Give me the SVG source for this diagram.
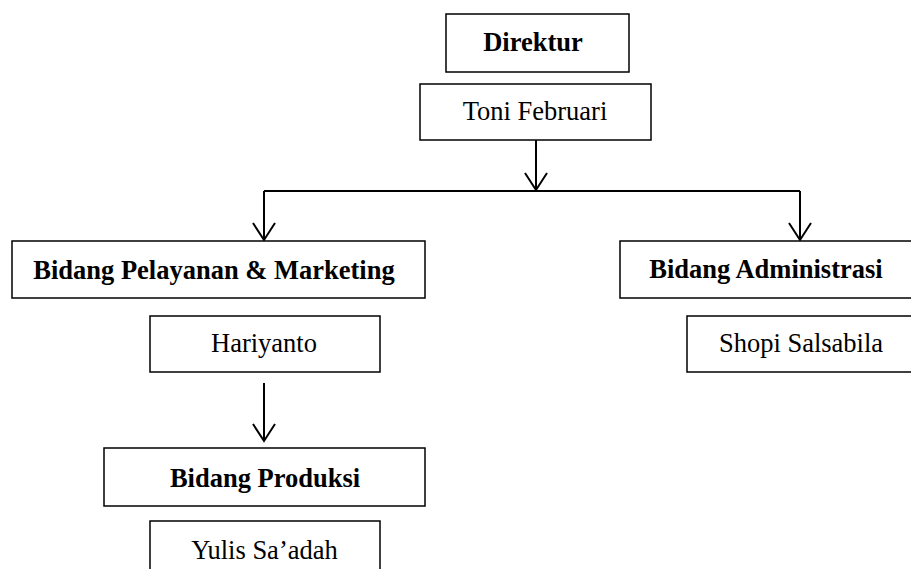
<svg xmlns="http://www.w3.org/2000/svg" width="911" height="569" viewBox="0 0 911 569">
<style>
.box{fill:#fff;stroke:#000;stroke-width:1.5}
.t{font-family:"Liberation Serif","Times New Roman",serif;font-size:26.5px;fill:#000;text-anchor:middle}
.b{font-weight:bold}
.c{fill:none;stroke:#000;stroke-width:2}
</style>
<defs>
<marker id="ah" markerUnits="userSpaceOnUse" markerWidth="22" markerHeight="26" refX="19" refY="12" orient="auto" viewBox="0 0 22 24">
<path d="M2,1 L19,12 L2,23" fill="none" stroke="#000" stroke-width="2"/>
</marker>
</defs>
<rect width="911" height="569" fill="#fff"/>
<g id="connectors">
<line class="c" x1="536" y1="140" x2="536" y2="190" marker-end="url(#ah)"/>
<line class="c" x1="264" y1="191" x2="800" y2="191"/>
<line class="c" x1="264" y1="191" x2="264" y2="240" marker-end="url(#ah)"/>
<line class="c" x1="800" y1="191" x2="800" y2="240" marker-end="url(#ah)"/>
<line class="c" x1="264" y1="383" x2="264" y2="441" marker-end="url(#ah)"/>
</g>
<g id="direktur">
<rect class="box" x="446" y="14" width="183" height="58"/>
<text class="t b" x="533" y="51">Direktur</text>
</g>
<g id="toni">
<rect class="box" x="420" y="84" width="231" height="56"/>
<text class="t" x="535" y="120">Toni Februari</text>
</g>
<g id="pelayanan">
<rect class="box" x="12" y="241" width="413" height="57"/>
<text class="t b" x="214" y="279">Bidang Pelayanan &amp; Marketing</text>
</g>
<g id="hariyanto">
<rect class="box" x="150" y="316" width="230" height="56"/>
<text class="t" x="264" y="352">Hariyanto</text>
</g>
<g id="administrasi">
<rect class="box" x="620" y="241" width="292" height="57"/>
<text class="t b" x="766" y="278">Bidang Administrasi</text>
</g>
<g id="shopi">
<rect class="box" x="687" y="316" width="230" height="56"/>
<text class="t" x="801" y="352">Shopi Salsabila</text>
</g>
<g id="produksi">
<rect class="box" x="104" y="448" width="321" height="58"/>
<text class="t b" x="265" y="487">Bidang Produksi</text>
</g>
<g id="yulis">
<rect class="box" x="150" y="521" width="230" height="60"/>
<text class="t" x="264.5" y="559">Yulis Sa’adah</text>
</g>
</svg>
